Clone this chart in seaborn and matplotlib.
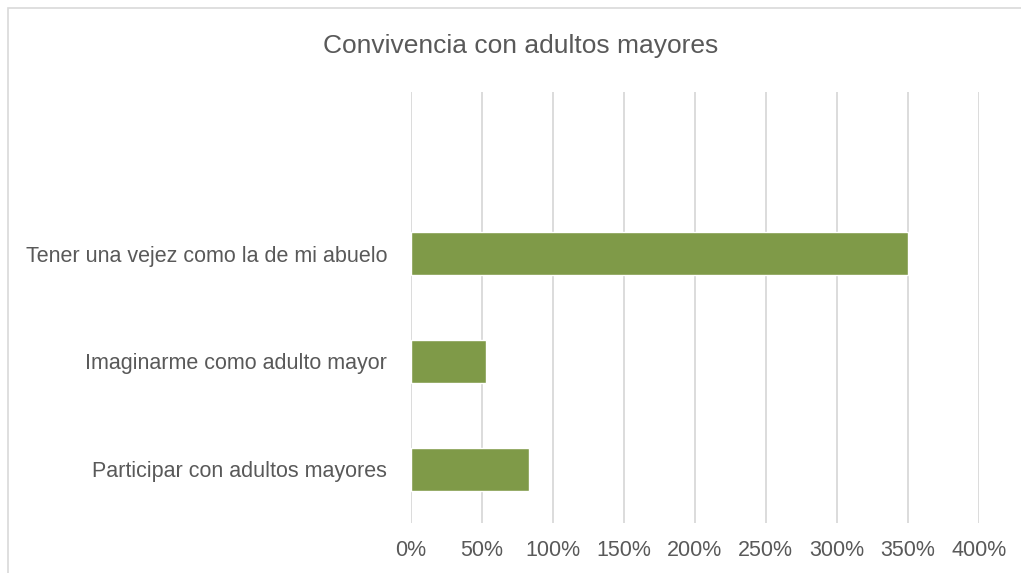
import matplotlib
matplotlib.use("Agg")
import matplotlib.pyplot as plt
import seaborn as sns
import pandas as pd
from matplotlib.patches import Rectangle
from matplotlib.ticker import FuncFormatter, MultipleLocator

# Data
categories = [" ", "Tener una vejez como la de mi abuelo", "Imaginarme como adulto mayor",
              "Participar con adultos mayores"]
values = [float("nan"), 3.50, 0.53, 0.83]
title = "Convivencia con adultos mayores"

sns.set_theme(style="white")
plt.rcParams['font.family'] = ['Liberation Sans', 'DejaVu Sans']

df = pd.DataFrame({"cat": categories, "val": values})

fig = plt.figure(figsize=(10.21, 5.73), dpi=100)
ax = fig.add_axes([410.7 / 1021, 1 - 523 / 573, (978.7 - 410.7) / 1021, (523 - 92) / 573])

sns.barplot(data=df, x="val", y="cat", order=categories, orient="h",
            color="#7F9A48", saturation=1, width=0.4, ax=ax, errorbar=None)

ax.set_xlim(0, 4)
ax.xaxis.set_major_locator(MultipleLocator(0.5))
ax.xaxis.set_major_formatter(FuncFormatter(lambda v, p: f"{v*100:.0f}%"))
ax.grid(axis="x", color="#d9d9d9", linewidth=1.3)
ax.set_axisbelow(True)
for s in ax.spines.values():
    s.set_visible(False)
ax.set_xlabel("")
ax.set_ylabel("")
ax.tick_params(axis="x", length=0, pad=12.5, labelsize=15.5, labelcolor="#595959")
ax.tick_params(axis="y", length=0, pad=17, labelsize=15.5, labelcolor="#595959")

fig.text(521 / 1021, 1 - 46 / 573, title, ha="center", va="center", fontsize=19, color="#595959")

# chart frame
fig.patches.append(Rectangle((7.5 / 1021, -0.1), 1.2, 1 - 8 / 573 + 0.1, transform=fig.transFigure,
                             fill=False, edgecolor="#d9d9d9", linewidth=1.2))

fig.savefig("out.png", dpi=100)
